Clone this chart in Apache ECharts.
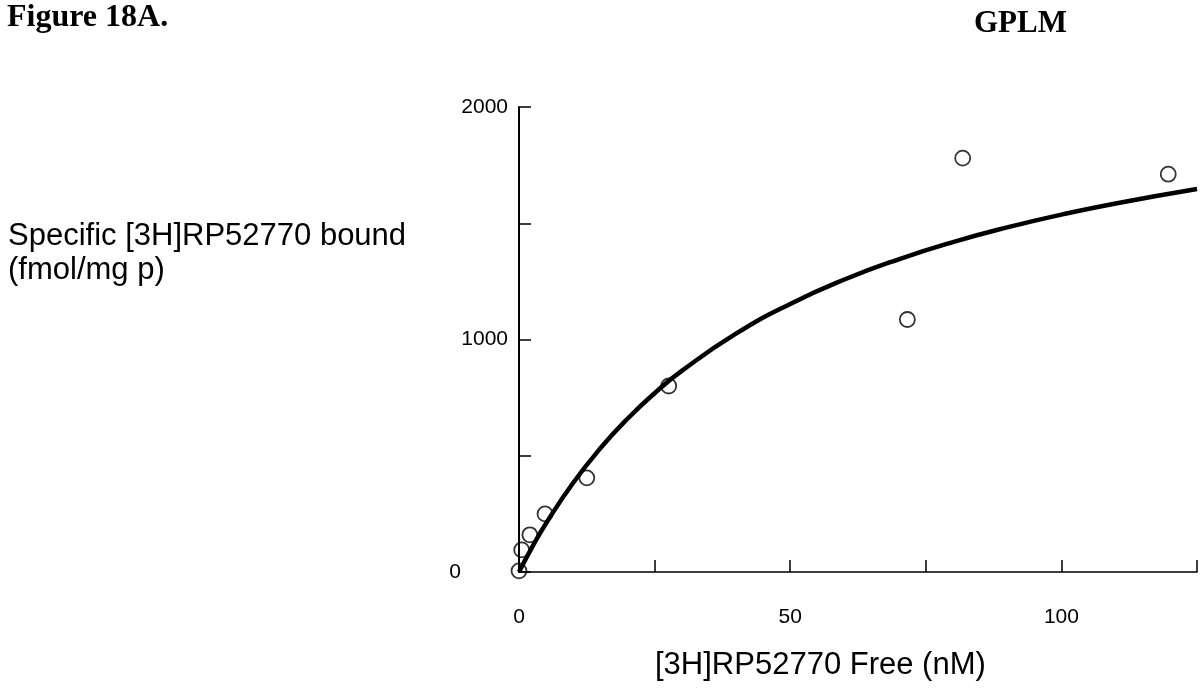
<!DOCTYPE html>
<html>
<head>
<meta charset="utf-8">
<script src="https://cdn.jsdelivr.net/npm/echarts@6/dist/echarts.min.js"></script>
<style>
html,body{margin:0;padding:0;background:#fff;}
#chart{width:1203px;height:699px;}
</style>
</head>
<body>
<div id="chart"></div>
<script>
// Observed data points (free nM, bound fmol/mg p)
const pointsFree = [0, 0.5, 2, 4.8, 12.5, 27.6, 71.6, 81.8, 119.7];
const pointsBound = [5, 95, 160, 250, 405, 800, 1086, 1780, 1711];
// Fitted curve
const curveFree = [0, 2.5, 5, 10, 15, 20, 25, 30, 40, 50, 60, 70, 80, 90, 100, 110, 125];
const curveBound = [0, 110, 210, 384, 532, 659, 769, 865, 1025, 1153, 1258, 1345, 1419, 1482, 1537, 1585, 1647];
const xTickLabels = ['0', '50', '100'];
const yTickLabels = ['0', '1000', '2000'];

const chart = echarts.init(document.getElementById('chart'));
const sans = 'Liberation Sans, Arial, sans-serif';
const serif = 'Liberation Serif, Times New Roman, serif';

chart.setOption({
  animation: false,
  backgroundColor: '#fff',
  grid: {left: 519, top: 107, right: 6, bottom: 127, containLabel: false},
  xAxis: {
    type: 'value', min: 0, max: 125, interval: 25,
    axisLine: {lineStyle: {color: '#000', width: 1.5}},
    axisTick: {inside: true, length: 12, lineStyle: {color: '#000', width: 1.5}},
    splitLine: {show: false},
    axisLabel: {
      color: '#000', fontFamily: sans, fontSize: 21, margin: 35,
      formatter: v => xTickLabels.includes(String(v)) ? String(v) : ''
    }
  },
  yAxis: {
    type: 'value', min: 0, max: 2000, interval: 500,
    axisLine: {lineStyle: {color: '#000', width: 2}},
    axisTick: {inside: true, length: 12, lineStyle: {color: '#000', width: 1.5}},
    splitLine: {show: false},
    axisLabel: {
      color: '#000', fontFamily: sans, fontSize: 21, margin: 11,
      formatter: v => {
        const s = String(v);
        if (!yTickLabels.includes(s)) return '';
        return s === '0' ? '{z|0}' : s;
      },
      rich: {z: {color: '#000', fontFamily: sans, fontSize: 21, padding: [0, 47, 0, 0]}}
    }
  },
  graphic: [
    {type: 'text', left: 7, top: 2, style: {text: 'Figure 18A.', font: 'bold 32px ' + serif, fill: '#000'}},
    {type: 'text', left: 974, top: 8, style: {text: 'GPLM', font: 'bold 31px ' + serif, fill: '#000'}},
    {type: 'text', left: 8, top: 221, style: {text: 'Specific [3H]RP52770 bound', font: '31px ' + sans, fill: '#000'}},
    {type: 'text', left: 8, top: 255, style: {text: '(fmol/mg p)', font: '31px ' + sans, fill: '#000'}},
    {type: 'text', left: 655, top: 650, style: {text: '[3H]RP52770 Free (nM)', font: '31px ' + sans, fill: '#000'}}
  ],
  series: [
    {
      type: 'line', smooth: true, symbol: 'none',
      data: curveFree.map((x, i) => [x, curveBound[i]]),
      lineStyle: {color: '#000', width: 4.5}, z: 2
    },
    {
      type: 'scatter', symbol: 'circle', symbolSize: 15,
      data: pointsFree.map((x, i) => [x, pointsBound[i]]),
      itemStyle: {color: 'rgba(255,255,255,0)', borderColor: '#000', borderWidth: 1.8}, z: 3
    }
  ]
});
</script>
</body>
</html>
